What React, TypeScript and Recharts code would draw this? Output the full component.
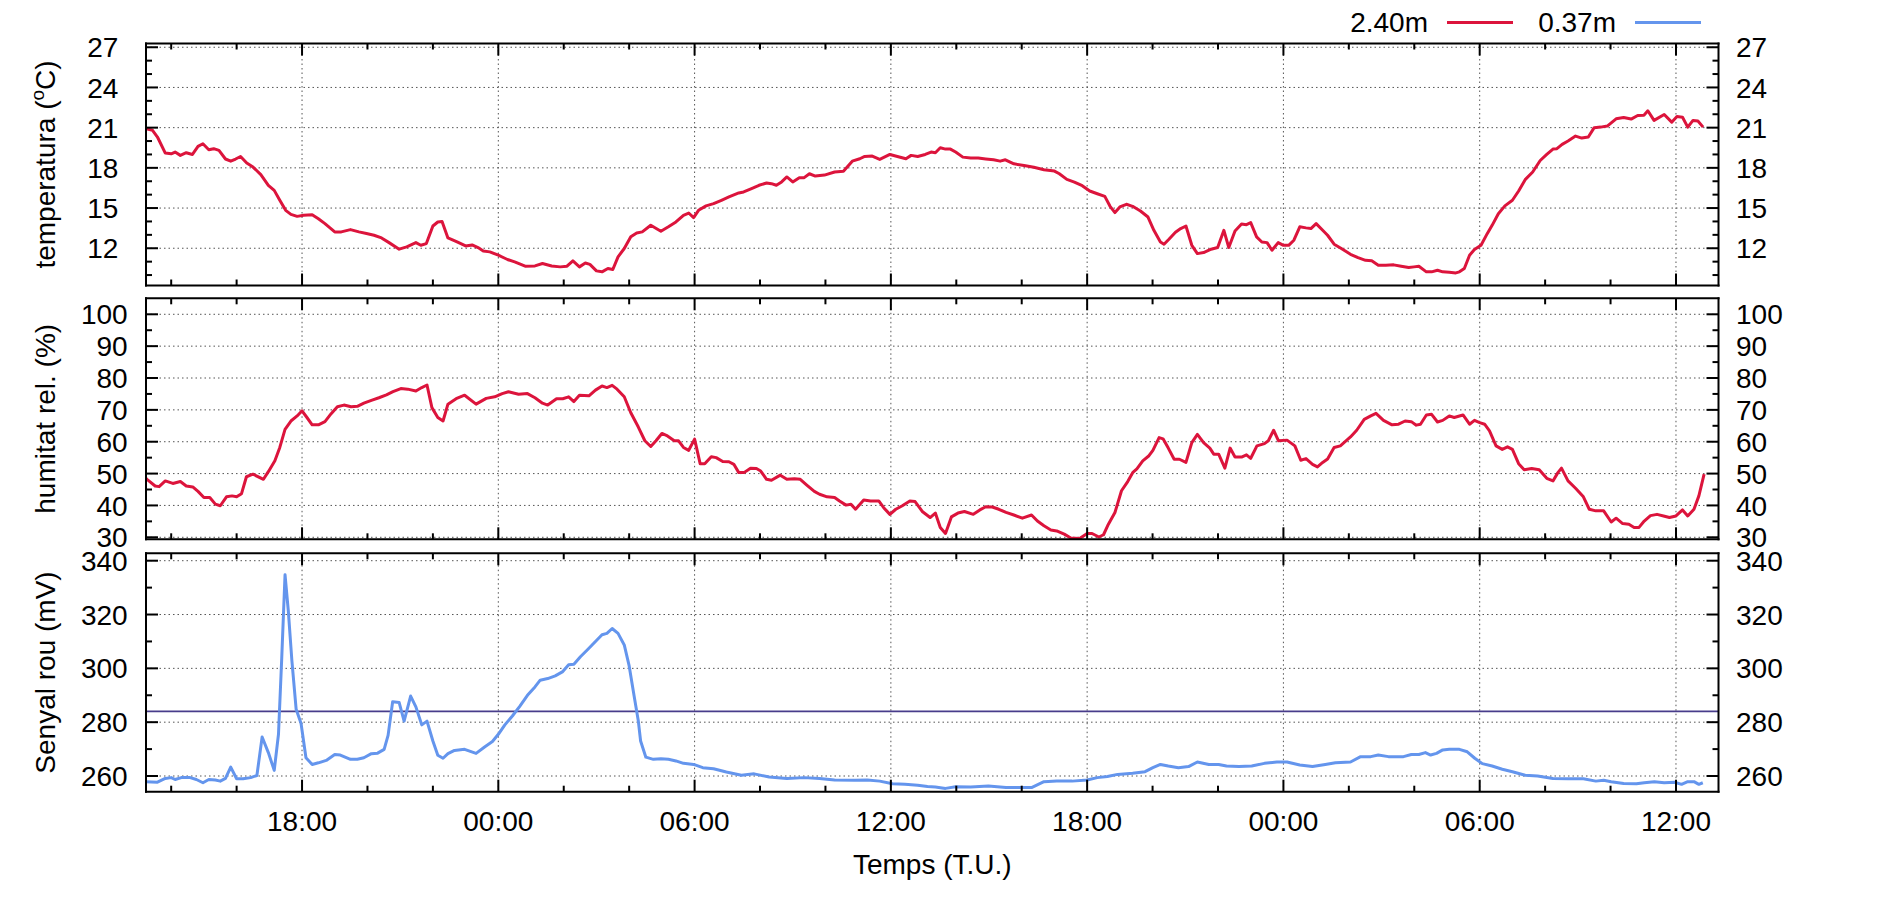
import { LineChart, Line, XAxis, YAxis, ReferenceLine } from 'recharts'

// time in hours counted from 00:00 of the first day
const X_DOMAIN: [number, number] = [13.23, 61.3]
const X_MAJOR = [18, 24, 30, 36, 42, 48, 54, 60]
const X_LABELS = ['18:00', '00:00', '06:00', '12:00', '18:00', '00:00', '06:00', '12:00']
const X_MINOR = [14, 16, 20, 22, 26, 28, 32, 34, 38, 40, 44, 46, 50, 52, 56, 58]

const SERIES_NAMES = ['2.40m', '0.37m']
const SERIES_COLORS = ['#dc143c', '#6495ed']

const TEMP_MAJOR = [12, 15, 18, 21, 24, 27]
const TEMP_MINOR = [10, 11, 13, 14, 16, 17, 19, 20, 22, 23, 25, 26]
const HUM_MAJOR = [30, 40, 50, 60, 70, 80, 90, 100]
const HUM_MINOR = [35, 45, 55, 65, 75, 85, 95]
const ROU_MAJOR = [260, 280, 300, 320, 340]
const ROU_MINOR = [270, 290, 310, 330]
const ROU_LIMIT = 284

// temperatura 2.40m [hour, degC]
const TEMP_240: [number, number][] = [
  [13.23, 20.92], [13.43, 20.8], [13.58, 20.3], [13.82, 19.1], [14.0, 19.05], [14.12, 19.18], [14.28, 18.93],
  [14.46, 19.13], [14.65, 19.0], [14.82, 19.6], [14.97, 19.8], [15.15, 19.35], [15.3, 19.43], [15.46, 19.3],
  [15.66, 18.66], [15.82, 18.5], [15.97, 18.66], [16.12, 18.85], [16.31, 18.36], [16.5, 18.06], [16.74, 17.5],
  [16.97, 16.7], [17.15, 16.32], [17.32, 15.58], [17.5, 14.83], [17.66, 14.53], [17.85, 14.38], [18.05, 14.46],
  [18.31, 14.5], [18.5, 14.2], [18.7, 13.84], [19.0, 13.22], [19.2, 13.22], [19.48, 13.39], [19.74, 13.22],
  [19.97, 13.1], [20.2, 12.97], [20.43, 12.77], [20.66, 12.42], [20.97, 11.93], [21.2, 12.1], [21.48, 12.42],
  [21.63, 12.22], [21.8, 12.35], [22.0, 13.66], [22.15, 13.96], [22.28, 14.0], [22.46, 12.77], [22.74, 12.47],
  [23.0, 12.17], [23.2, 12.25], [23.38, 12.05], [23.54, 11.8], [23.74, 11.73], [24.0, 11.48], [24.28, 11.16],
  [24.5, 10.98], [24.82, 10.66], [25.12, 10.68], [25.35, 10.86], [25.63, 10.68], [25.89, 10.61], [26.1, 10.66],
  [26.28, 11.06], [26.48, 10.61], [26.66, 10.9], [26.8, 10.8], [27.0, 10.31], [27.17, 10.24], [27.35, 10.49],
  [27.5, 10.41], [27.66, 11.36], [27.85, 11.98], [28.05, 12.85], [28.23, 13.14], [28.4, 13.22], [28.66, 13.72],
  [28.97, 13.27], [29.2, 13.6], [29.43, 13.96], [29.66, 14.46], [29.82, 14.63], [29.97, 14.29], [30.12, 14.83],
  [30.35, 15.16], [30.58, 15.33], [30.82, 15.58], [31.05, 15.83], [31.35, 16.13], [31.5, 16.2], [31.74, 16.45],
  [31.97, 16.7], [32.2, 16.87], [32.35, 16.82], [32.5, 16.7], [32.66, 16.95], [32.82, 17.32], [33.0, 16.95],
  [33.2, 17.27], [33.35, 17.27], [33.51, 17.56], [33.69, 17.39], [33.97, 17.46], [34.28, 17.69], [34.55, 17.74],
  [34.82, 18.5], [35.05, 18.68], [35.2, 18.85], [35.43, 18.88], [35.66, 18.63], [35.97, 19.0], [36.2, 18.85],
  [36.46, 18.68], [36.62, 18.93], [36.82, 18.85], [37.05, 19.0], [37.23, 19.18], [37.36, 19.13], [37.51, 19.5],
  [37.67, 19.4], [37.82, 19.4], [37.98, 19.18], [38.2, 18.8], [38.44, 18.73], [38.67, 18.73], [38.9, 18.66],
  [39.14, 18.6], [39.34, 18.5], [39.5, 18.6], [39.76, 18.3], [40.07, 18.18], [40.37, 18.04], [40.68, 17.86],
  [41.0, 17.76], [41.15, 17.56], [41.38, 17.14], [41.61, 16.94], [41.85, 16.67], [42.08, 16.27], [42.31, 16.07],
  [42.54, 15.87], [42.7, 15.13], [42.85, 14.66], [43.0, 15.08], [43.2, 15.28], [43.39, 15.13], [43.63, 14.78],
  [43.86, 14.33], [44.04, 13.34], [44.24, 12.47], [44.35, 12.3], [44.5, 12.67], [44.7, 13.19], [44.86, 13.47],
  [45.02, 13.66], [45.2, 12.22], [45.37, 11.6], [45.56, 11.68], [45.79, 11.93], [45.99, 12.05], [46.18, 13.34],
  [46.33, 12.05], [46.52, 13.29], [46.72, 13.81], [46.87, 13.76], [47.0, 13.91], [47.18, 12.85], [47.34, 12.47],
  [47.5, 12.42], [47.65, 11.85], [47.84, 12.42], [48.0, 12.22], [48.16, 12.22], [48.32, 12.6], [48.5, 13.6],
  [48.69, 13.52], [48.84, 13.47], [49.0, 13.84], [49.2, 13.34], [49.35, 12.97], [49.55, 12.3], [49.77, 11.98],
  [50.05, 11.55], [50.28, 11.3], [50.51, 11.1], [50.7, 11.06], [50.9, 10.73], [51.13, 10.73], [51.37, 10.76],
  [51.6, 10.66], [51.83, 10.56], [51.99, 10.61], [52.14, 10.66], [52.37, 10.24], [52.53, 10.24], [52.71, 10.36],
  [52.87, 10.24], [53.07, 10.21], [53.27, 10.16], [53.38, 10.24], [53.53, 10.49], [53.69, 11.48], [53.84, 11.9],
  [54.04, 12.22], [54.23, 13.09], [54.38, 13.71], [54.57, 14.58], [54.77, 15.16], [55.0, 15.58], [55.19, 16.27],
  [55.39, 17.12], [55.62, 17.69], [55.85, 18.55], [56.05, 19.0], [56.24, 19.4], [56.36, 19.43], [56.52, 19.75],
  [56.7, 20.0], [56.93, 20.37], [57.12, 20.22], [57.32, 20.3], [57.5, 21.0], [57.7, 21.04], [57.9, 21.12],
  [58.17, 21.66], [58.4, 21.76], [58.63, 21.64], [58.83, 21.91], [59.02, 21.93], [59.14, 22.26], [59.33, 21.54],
  [59.64, 21.98], [59.87, 21.41], [60.03, 21.83], [60.2, 21.78], [60.36, 21.04], [60.52, 21.54], [60.67, 21.49],
  [60.83, 21.04],
]

// humitat relativa 2.40m [hour, %]
const HUM_240: [number, number][] = [
  [13.23, 48.5], [13.28, 48.0], [13.51, 46.1], [13.63, 45.9], [13.82, 47.7], [14.05, 46.9], [14.28, 47.5],
  [14.46, 46.1], [14.66, 45.8], [14.82, 44.4], [15.0, 42.5], [15.18, 42.5], [15.35, 40.4], [15.5, 39.9],
  [15.69, 42.7], [15.86, 43.0], [16.0, 42.7], [16.15, 43.7], [16.3, 49.0], [16.5, 49.8], [16.82, 48.2],
  [16.97, 50.6], [17.17, 54.0], [17.32, 58.2], [17.48, 63.9], [17.66, 66.5], [17.85, 68.1], [18.0, 69.7],
  [18.15, 67.6], [18.31, 65.3], [18.5, 65.3], [18.7, 66.3], [18.89, 68.8], [19.08, 71.0], [19.28, 71.5],
  [19.5, 71.0], [19.69, 71.1], [19.89, 72.1], [20.12, 73.0], [20.35, 73.8], [20.58, 74.7], [20.78, 75.7],
  [21.02, 76.7], [21.23, 76.5], [21.48, 75.9], [21.66, 77.0], [21.82, 77.8], [21.97, 70.7], [22.15, 67.6],
  [22.31, 66.5], [22.46, 71.8], [22.71, 73.5], [22.97, 74.6], [23.32, 71.8], [23.63, 73.6], [23.89, 74.1],
  [24.12, 75.1], [24.31, 75.7], [24.62, 74.9], [24.89, 75.1], [25.12, 73.8], [25.35, 72.1], [25.51, 71.5],
  [25.78, 73.5], [25.97, 73.5], [26.15, 74.1], [26.31, 72.6], [26.48, 74.6], [26.77, 74.4], [26.97, 76.2],
  [27.17, 77.5], [27.32, 77.0], [27.48, 77.7], [27.63, 76.5], [27.85, 74.1], [28.05, 69.1], [28.28, 64.6],
  [28.48, 60.3], [28.66, 58.5], [28.82, 60.3], [29.0, 62.6], [29.17, 61.8], [29.38, 60.3], [29.51, 60.3],
  [29.66, 58.2], [29.82, 57.3], [30.0, 60.8], [30.17, 53.1], [30.31, 53.1], [30.51, 55.3], [30.66, 55.0],
  [30.86, 53.8], [31.05, 53.7], [31.2, 52.9], [31.35, 50.3], [31.51, 50.3], [31.71, 51.7], [31.89, 51.6],
  [32.02, 50.8], [32.2, 48.2], [32.35, 47.9], [32.62, 49.5], [32.82, 48.2], [33.05, 48.4], [33.23, 48.2],
  [33.43, 46.4], [33.66, 44.4], [33.82, 43.5], [34.05, 42.7], [34.28, 42.5], [34.43, 41.4], [34.63, 40.1],
  [34.78, 40.4], [34.92, 38.8], [35.17, 41.7], [35.38, 41.4], [35.63, 41.4], [35.78, 39.3], [35.97, 37.2],
  [36.15, 38.8], [36.35, 39.9], [36.58, 41.4], [36.74, 41.2], [36.97, 38.0], [37.2, 36.2], [37.36, 37.6],
  [37.51, 33.1], [37.67, 31.2], [37.85, 36.4], [38.05, 37.6], [38.25, 38.1], [38.52, 37.2], [38.72, 38.6],
  [38.9, 39.6], [39.1, 39.5], [39.3, 38.8], [39.52, 37.8], [39.76, 37.0], [40.02, 36.0], [40.3, 37.0],
  [40.48, 35.1], [40.68, 33.6], [40.89, 32.3], [41.07, 32.0], [41.3, 31.0], [41.5, 29.8], [41.77, 29.6],
  [42.0, 31.2], [42.15, 31.2], [42.36, 30.1], [42.5, 30.8], [42.65, 34.1], [42.85, 37.8], [43.05, 44.6],
  [43.24, 47.5], [43.4, 50.4], [43.52, 51.5], [43.7, 54.0], [43.89, 55.6], [44.01, 57.3], [44.2, 61.3],
  [44.32, 60.9], [44.48, 58.0], [44.66, 54.5], [44.82, 54.5], [45.02, 53.5], [45.2, 59.7], [45.37, 62.3],
  [45.56, 59.7], [45.75, 58.0], [45.87, 56.1], [46.02, 56.1], [46.21, 51.7], [46.37, 58.0], [46.52, 55.2],
  [46.72, 55.2], [46.87, 55.9], [47.0, 54.8], [47.19, 58.7], [47.42, 59.4], [47.54, 60.3], [47.7, 63.6],
  [47.85, 60.3], [48.11, 60.5], [48.35, 58.7], [48.53, 54.2], [48.69, 54.7], [48.89, 52.9], [49.04, 52.1],
  [49.2, 53.5], [49.35, 54.6], [49.55, 58.2], [49.74, 58.7], [50.05, 61.5], [50.24, 63.6], [50.47, 67.0],
  [50.67, 68.1], [50.83, 68.9], [51.06, 66.7], [51.32, 65.3], [51.52, 65.5], [51.72, 66.5], [51.91, 66.3],
  [52.06, 65.2], [52.19, 65.5], [52.37, 68.4], [52.53, 68.6], [52.71, 66.2], [52.87, 66.7], [53.07, 68.1],
  [53.22, 67.6], [53.49, 68.4], [53.69, 65.5], [53.84, 66.7], [54.0, 66.0], [54.15, 65.5], [54.3, 63.4],
  [54.5, 58.7], [54.69, 57.6], [54.85, 58.4], [55.0, 57.6], [55.19, 53.1], [55.36, 51.2], [55.59, 51.6],
  [55.82, 51.2], [56.05, 48.5], [56.24, 47.7], [56.39, 50.3], [56.5, 51.7], [56.7, 47.7], [56.93, 45.4],
  [57.17, 42.7], [57.35, 38.8], [57.55, 38.3], [57.79, 38.3], [58.02, 34.8], [58.17, 36.0], [58.37, 34.3],
  [58.56, 34.1], [58.72, 33.1], [58.87, 33.1], [59.03, 35.1], [59.22, 36.8], [59.42, 37.2], [59.62, 36.7],
  [59.8, 36.2], [60.0, 36.7], [60.2, 38.6], [60.36, 36.7], [60.55, 38.8], [60.7, 43.0], [60.86, 49.8],
]

// senyal rou 0.37m [hour, mV]
const ROU_037: [number, number][] = [
  [13.23, 257.9], [13.58, 257.7], [13.82, 259.1], [14.0, 259.4], [14.12, 258.7], [14.31, 259.4], [14.58, 259.4],
  [14.77, 258.7], [14.97, 257.5], [15.15, 258.7], [15.35, 258.5], [15.5, 258.1], [15.66, 259.1], [15.82, 263.3],
  [16.0, 259.0], [16.2, 259.0], [16.43, 259.4], [16.62, 260.2], [16.78, 274.5], [16.97, 268.7], [17.15, 262.1],
  [17.28, 275.5], [17.38, 304.0], [17.48, 334.8], [17.58, 321.4], [17.69, 302.8], [17.82, 284.8], [17.97, 279.5],
  [18.12, 266.8], [18.31, 264.3], [18.5, 264.9], [18.74, 265.8], [19.0, 268.0], [19.17, 267.8], [19.48, 266.2],
  [19.69, 266.2], [19.89, 266.8], [20.12, 268.3], [20.31, 268.5], [20.51, 269.9], [20.63, 275.1], [20.77, 287.6],
  [20.97, 287.3], [21.12, 280.4], [21.32, 289.7], [21.48, 285.7], [21.66, 279.0], [21.82, 280.4], [22.0, 273.0],
  [22.15, 267.7], [22.31, 266.6], [22.46, 268.3], [22.66, 269.5], [22.97, 269.9], [23.32, 268.4], [23.58, 270.8],
  [23.82, 272.8], [24.0, 275.5], [24.2, 279.0], [24.43, 282.3], [24.66, 286.0], [24.89, 290.0], [25.12, 293.1],
  [25.28, 295.6], [25.51, 296.2], [25.74, 297.2], [25.97, 298.8], [26.15, 301.3], [26.31, 301.5], [26.51, 304.3],
  [26.74, 307.1], [26.97, 310.0], [27.17, 312.5], [27.32, 313.0], [27.48, 314.8], [27.66, 313.0], [27.85, 308.7],
  [28.0, 300.9], [28.15, 289.8], [28.28, 280.4], [28.35, 273.0], [28.51, 267.0], [28.74, 266.2], [28.97, 266.4],
  [29.2, 266.2], [29.43, 265.6], [29.66, 264.7], [29.97, 264.3], [30.25, 263.1], [30.58, 262.7], [30.97, 261.5],
  [31.43, 260.3], [31.82, 260.8], [32.28, 259.6], [32.82, 259.1], [33.35, 259.4], [33.82, 259.1], [34.28, 258.5],
  [34.89, 258.4], [35.28, 258.5], [35.66, 258.1], [36.05, 257.1], [36.43, 256.9], [36.82, 256.6], [37.12, 256.1],
  [37.36, 255.9], [37.67, 255.4], [37.98, 256.0], [38.44, 255.9], [38.98, 256.3], [39.52, 255.7], [40.0, 255.7],
  [40.3, 255.7], [40.68, 257.9], [41.07, 258.1], [41.54, 258.1], [42.0, 258.5], [42.31, 259.4], [42.62, 259.8],
  [42.93, 260.6], [43.39, 261.0], [43.77, 261.6], [44.01, 263.1], [44.24, 264.3], [44.48, 263.7], [44.79, 263.1],
  [45.1, 263.5], [45.37, 265.2], [45.72, 264.3], [46.02, 264.3], [46.26, 263.7], [46.64, 263.5], [47.03, 263.7],
  [47.42, 264.7], [47.8, 265.2], [48.11, 265.2], [48.5, 264.1], [48.89, 263.5], [49.28, 264.3], [49.59, 264.9],
  [50.05, 265.2], [50.36, 267.2], [50.67, 267.2], [50.9, 267.8], [51.21, 267.2], [51.67, 267.2], [51.91, 268.0],
  [52.14, 268.0], [52.34, 268.7], [52.5, 267.8], [52.68, 268.4], [52.87, 269.7], [53.07, 269.9], [53.38, 269.9],
  [53.62, 269.0], [53.85, 266.6], [54.08, 264.6], [54.38, 263.7], [54.69, 262.5], [55.0, 261.6], [55.39, 260.3],
  [55.77, 260.0], [56.24, 259.1], [56.7, 259.0], [57.17, 259.0], [57.55, 258.1], [57.79, 258.4], [58.02, 257.9],
  [58.4, 257.2], [58.79, 257.1], [59.03, 257.5], [59.34, 257.9], [59.64, 257.5], [59.96, 257.7], [60.17, 256.9],
  [60.36, 257.9], [60.55, 257.9], [60.7, 256.9], [60.82, 257.5],
]

const FONT = '"Liberation Sans", Arial, Helvetica, sans-serif'
const FS = 28
const PLOT_LEFT = 146
const PLOT_RIGHT = 1718.5
const W = 1890
const Y_AXIS_W = 40
const X_AXIS_H = 8
const AXIS = { stroke: '#000', strokeWidth: 2, strokeLinecap: 'square' as const }
const GRID = { stroke: '#555', strokeWidth: 1, strokeDasharray: '1.5 3' }

const xTicks = [...X_MAJOR, ...X_MINOR].sort((a, b) => a - b)

function makeXTick(side: 'top' | 'bottom', showLabel: boolean) {
  return (p: any) => {
    const i = X_MAJOR.indexOf(p.payload.value)
    const len = i >= 0 ? 12 : 6
    const d = side === 'bottom' ? -1 : 1
    return (
      <g>
        <line x1={p.x} x2={p.x} y1={p.y} y2={p.y + d * len} stroke="#000" strokeWidth={2} />
        {showLabel && i >= 0 && (
          <text x={p.x} y={p.y + 39} textAnchor="middle" fontSize={FS} fontFamily={FONT} fill="#000">
            {X_LABELS[i]}
          </text>
        )}
      </g>
    )
  }
}

function makeYTick(side: 'left' | 'right', majors: number[], gap: number) {
  return (p: any) => {
    const v = p.payload.value
    const major = majors.includes(v)
    const len = major ? 12 : 6
    const d = side === 'left' ? 1 : -1
    return (
      <g>
        <line x1={p.x} x2={p.x + d * len} y1={p.y} y2={p.y} stroke="#000" strokeWidth={2} />
        {major && (
          <text
            x={side === 'left' ? p.x - gap : p.x + gap}
            y={p.y}
            dy="0.36em"
            textAnchor={side === 'left' ? 'end' : 'start'}
            fontSize={FS}
            fontFamily={FONT}
            fill="#000"
          >
            {v}
          </text>
        )}
      </g>
    )
  }
}

type PanelProps = {
  top: number
  height: number
  plotTop: number
  plotBottom: number
  domain: [number, number]
  majors: number[]
  minors: number[]
  leftGap: number
  data: [number, number][]
  color: string
  xLabels?: boolean
  limit?: number
}

function Panel(props: PanelProps) {
  const { top, height, plotTop, plotBottom, domain, majors, minors, leftGap, data, color, xLabels, limit } = props
  const rows = data.map(([t, v]) => ({ t, v }))
  const yTicks = [...majors, ...minors].sort((a, b) => a - b)
  return (
    <div style={{ position: 'absolute', left: 0, top }}>
      <LineChart
        width={W}
        height={height}
        data={rows}
        margin={{
          top: plotTop - top - X_AXIS_H,
          bottom: top + height - plotBottom - X_AXIS_H,
          left: PLOT_LEFT - Y_AXIS_W,
          right: W - PLOT_RIGHT - Y_AXIS_W,
        }}
      >
        <XAxis
          xAxisId="b"
          dataKey="t"
          type="number"
          domain={X_DOMAIN}
          allowDataOverflow
          ticks={xTicks}
          interval={0}
          height={X_AXIS_H}
          tickSize={0}
          tickMargin={0}
          axisLine={AXIS}
          tickLine={false}
          tick={makeXTick('bottom', !!xLabels)}
        />
        <XAxis
          xAxisId="t"
          orientation="top"
          dataKey="t"
          type="number"
          domain={X_DOMAIN}
          allowDataOverflow
          ticks={xTicks}
          interval={0}
          height={X_AXIS_H}
          tickSize={0}
          tickMargin={0}
          axisLine={AXIS}
          tickLine={false}
          tick={makeXTick('top', false)}
        />
        <YAxis
          yAxisId="l"
          type="number"
          domain={domain}
          allowDataOverflow
          ticks={yTicks}
          interval={0}
          width={Y_AXIS_W}
          tickSize={0}
          tickMargin={0}
          axisLine={AXIS}
          tickLine={false}
          tick={makeYTick('left', majors, leftGap)}
        />
        <YAxis
          yAxisId="r"
          orientation="right"
          type="number"
          domain={domain}
          allowDataOverflow
          ticks={yTicks}
          interval={0}
          width={Y_AXIS_W}
          tickSize={0}
          tickMargin={0}
          axisLine={AXIS}
          tickLine={false}
          tick={makeYTick('right', majors, 17.5)}
        />
        {majors.map((v) => (
          <ReferenceLine key={'h' + v} y={v} xAxisId="b" yAxisId="l" {...GRID} />
        ))}
        {X_MAJOR.map((t) => (
          <ReferenceLine key={'v' + t} x={t} xAxisId="b" yAxisId="l" {...GRID} />
        ))}
        {limit !== undefined && (
          <ReferenceLine y={limit} xAxisId="b" yAxisId="l" stroke="#483d8b" strokeWidth={1.6} />
        )}
        <Line
          xAxisId="b"
          yAxisId="l"
          type="linear"
          dataKey="v"
          stroke={color}
          strokeWidth={3}
          strokeLinejoin="round"
          dot={false}
          activeDot={false}
          isAnimationActive={false}
        />
      </LineChart>
    </div>
  )
}

const PANELS = [
  { top: 0, height: 300, plotTop: 43.5, plotBottom: 285.5 },
  { top: 290, height: 275, plotTop: 298.3, plotBottom: 539.3 },
  { top: 545, height: 355, plotTop: 553.3, plotBottom: 791.7 },
]

function YTitle({ cy, children }: { cy: number; children: any }) {
  return (
    <text x={55} y={cy} transform={`rotate(-90 55 ${cy})`} textAnchor="middle" fontSize={FS} fontFamily={FONT} fill="#000">
      {children}
    </text>
  )
}

export default function App() {
  const mid = (i: number) => (PANELS[i].plotTop + PANELS[i].plotBottom) / 2
  return (
    <div style={{ position: 'absolute', left: 0, top: 0, width: W, height: 900, background: '#fff', overflow: 'hidden' }}>
      <Panel
        {...PANELS[0]}
        domain={[9.22, 27.28]}
        majors={TEMP_MAJOR}
        minors={TEMP_MINOR}
        leftGap={27.7}
        data={TEMP_240}
        color={SERIES_COLORS[0]}
      />
      <Panel
        {...PANELS[1]}
        domain={[29.37, 105.02]}
        majors={HUM_MAJOR}
        minors={HUM_MINOR}
        leftGap={18.3}
        data={HUM_240}
        color={SERIES_COLORS[0]}
      />
      <Panel
        {...PANELS[2]}
        domain={[254.17, 342.75]}
        majors={ROU_MAJOR}
        minors={ROU_MINOR}
        leftGap={18.3}
        data={ROU_037}
        color={SERIES_COLORS[1]}
        xLabels
        limit={ROU_LIMIT}
      />
      <svg width={W} height={900} style={{ position: 'absolute', left: 0, top: 0, pointerEvents: 'none' }}>
        <YTitle cy={mid(0)}>
          temperatura (<tspan dy={-11} fontSize={19}>o</tspan>
          <tspan dy={11}>C)</tspan>
        </YTitle>
        <YTitle cy={mid(1)}>humitat rel. (%)</YTitle>
        <YTitle cy={mid(2)}>Senyal rou (mV)</YTitle>
        <text x={(PLOT_LEFT + PLOT_RIGHT) / 2} y={874} textAnchor="middle" fontSize={FS} fontFamily={FONT} fill="#000">
          Temps (T.U.)
        </text>
        {SERIES_NAMES.map((name, i) => (
          <g key={name}>
            <text x={1428 + i * 188} y={31.7} textAnchor="end" fontSize={FS} fontFamily={FONT} fill="#000">
              {name}
            </text>
            <line x1={1447 + i * 188} x2={1513 + i * 188} y1={22.5} y2={22.5} stroke={SERIES_COLORS[i]} strokeWidth={3} />
          </g>
        ))}
      </svg>
    </div>
  )
}
